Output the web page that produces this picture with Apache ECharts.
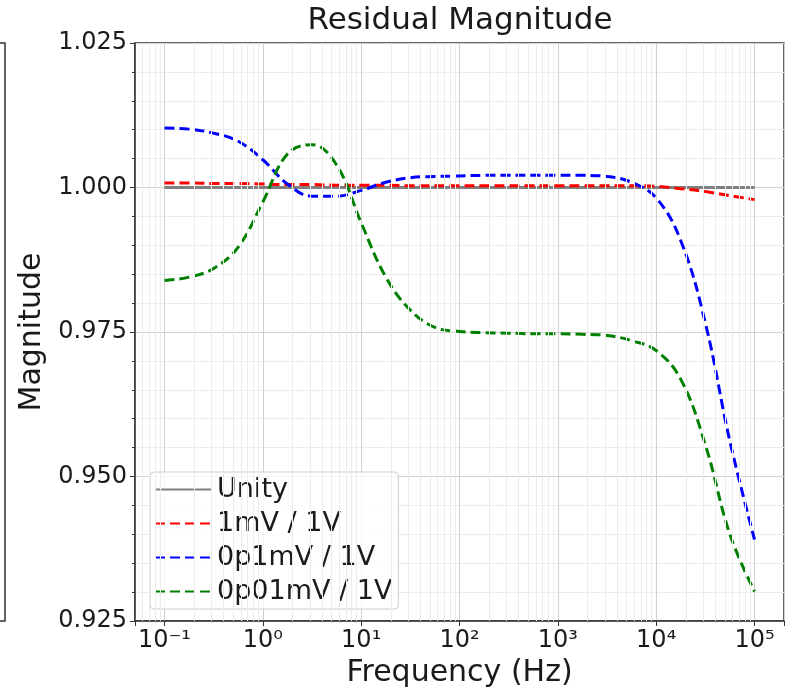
<!DOCTYPE html>
<html>
<head>
<meta charset="utf-8">
<script src="https://cdn.jsdelivr.net/npm/echarts@6/dist/echarts.min.js"></script>
<style>
  html, body { margin: 0; padding: 0; background: #fff; }
  #chart { width: 797px; height: 696px; }
</style>
</head>
<body>
<div id="chart"></div>
<script>
// frequencies (Hz), quarter-decade steps
var freq = [0.1, 0.178, 0.316, 0.562, 1, 1.78, 3.16, 5.62, 10, 17.8, 31.6, 56.2, 100,
            178, 316, 562, 1000, 1780, 3160, 5620, 10000, 17800, 31600, 56200, 100000];

var unity = [1, 1, 1, 1, 1, 1, 1, 1, 1, 1, 1, 1, 1,
             1, 1, 1, 1, 1, 1, 1, 1, 1, 1, 1, 1];
var r1mV = [1.0008, 1.0008, 1.0007, 1.0007, 1.0006, 1.0005, 1.0005, 1.0004, 1.0004, 1.0004, 1.0003, 1.0003, 1.0003,
            1.0003, 1.0003, 1.0003, 1.0003, 1.0003, 1.0003, 1.0003, 1.0002, 0.9998, 0.9993, 0.9986, 0.9979];
var r0p1mV = [1.0103, 1.0101, 1.0094, 1.0080, 1.0048, 1.0006, 0.9985, 0.9985, 0.9995, 1.0009, 1.0017, 1.0019, 1.0020,
              1.0021, 1.0021, 1.0021, 1.0021, 1.0021, 1.0019, 1.0009, 0.9982, 0.9908, 0.9766, 0.9561, 0.9391];
var r0p01mV = [0.9839, 0.9845, 0.9860, 0.9897, 0.9975, 1.0058, 1.0074, 1.0039, 0.9939, 0.9845, 0.9788, 0.9758, 0.9751,
               0.9749, 0.9748, 0.9747, 0.9747, 0.9746, 0.9744, 0.9735, 0.9718, 0.9668, 0.9555, 0.9400, 0.9301];

var decades = [-2, -1, 0, 1, 2, 3, 4, 5];
var supDigits = { '-': '\u207B', '0': '\u2070', '1': '\u00B9', '2': '\u00B2', '3': '\u00B3', '4': '\u2074', '5': '\u2075' };

var xMin = Math.pow(10, -1.3);
var xMax = Math.pow(10, 5.3);

// minor grid of the log axis: 2..9 x 10^n
var minorX = [];
decades.forEach(function (d) {
  for (var k = 2; k <= 9; k++) {
    var v = k * Math.pow(10, d);
    if (v > xMin && v < xMax) minorX.push({ xAxis: v });
  }
});

function pairs(ys) {
  return freq.map(function (f, i) { return [f, ys[i]]; });
}

var font = 'DejaVu Sans';
var ink = '#1a1a1a';

function dashed(name, ys, color) {
  return {
    name: name,
    type: 'line',
    smooth: 0.4,
    data: pairs(ys),
    symbol: 'none',
    lineStyle: { color: color, width: 3, type: [10, 5] },
    itemStyle: { color: color }
  };
}

var myChart = echarts.init(document.getElementById('chart'));
var option = {
  animation: false,
  textStyle: { fontFamily: font },
  title: {
    text: 'Residual Magnitude',
    left: 455,
    textAlign: 'center',
    top: 0,
    textStyle: { fontSize: 31, fontWeight: 'normal', color: ink, fontFamily: font }
  },
  legend: {
    data: ['Unity', '1mV / 1V', '0p1mV / 1V', '0p01mV / 1V'],
    orient: 'vertical',
    left: 150,
    top: 472,
    itemWidth: 57,
    itemHeight: 14,
    itemGap: 7,
    padding: [4, 6, 4, 4],
    backgroundColor: 'rgba(255,255,255,0.8)',
    borderColor: '#cccccc',
    borderWidth: 1,
    borderRadius: 4,
    itemStyle: { opacity: 0 },
    textStyle: { fontSize: 27, color: ink, fontFamily: font }
  },
  grid: [
    { left: 135, right: 13, top: 43, bottom: 75, show: true, borderColor: '#333', borderWidth: 1.5 },
    // right spine of the neighbouring panel, cut off at the left edge
    { left: -100, width: 105, top: 43, bottom: 75, show: true, borderColor: '#333', borderWidth: 1.5, outerBoundsMode: 'none' }
  ],
  xAxis: [
    {
      type: 'log',
      logBase: 10,
      min: xMin,
      max: xMax,
      name: 'Frequency (Hz)',
      nameLocation: 'middle',
      nameGap: 26,
      nameTextStyle: { fontSize: 30, color: ink, fontFamily: font },
      axisLine: { show: true, lineStyle: { color: '#333', width: 1.5 } },
      axisTick: { show: true, length: 5, lineStyle: { color: '#333' } },
      axisLabel: {
        fontSize: 24,
        color: ink,
        fontFamily: font,
        margin: 8,
        formatter: function (v) {
          var e = Math.log10(v);
          var n = Math.round(e);
          if (Math.abs(e - n) > 1e-6) return '';
          return '10' + String(n).split('').map(function (c) { return supDigits[c]; }).join('');
        }
      },
      splitLine: { show: true, lineStyle: { color: '#d0d0d0', width: 1 } }
    },
    { gridIndex: 1, type: 'value', show: false, min: 0, max: 1 }
  ],
  yAxis: [
    {
      type: 'value',
      min: 0.925,
      max: 1.025,
      interval: 0.025,
      name: 'Magnitude',
      nameLocation: 'middle',
      nameGap: 88,
      nameTextStyle: { fontSize: 30, color: ink, fontFamily: font },
      axisLine: { show: true, lineStyle: { color: '#333', width: 1.5 } },
      axisTick: { show: true, length: 5, lineStyle: { color: '#333' } },
      minorTick: { show: true, splitNumber: 5, length: 3, lineStyle: { color: '#333' } },
      axisLabel: {
        fontSize: 24,
        color: ink,
        fontFamily: font,
        margin: 8,
        formatter: function (v) { return v.toFixed(3); }
      },
      splitLine: { show: true, lineStyle: { color: '#d0d0d0', width: 1 } },
      minorSplitLine: { show: true, lineStyle: { color: '#ececec', width: 1 } }
    },
    { gridIndex: 1, type: 'value', show: false, min: 0, max: 1 }
  ],
  series: [
    {
      name: 'minor grid',
      type: 'line',
      data: [],
      z: 0,
      silent: true,
      markLine: {
        silent: true,
        symbol: 'none',
        label: { show: false },
        lineStyle: { color: '#ececec', type: 'solid', width: 1 },
        data: minorX
      }
    },
    {
      name: 'Unity',
      type: 'line',
      data: pairs(unity),
      symbol: 'none',
      lineStyle: { color: '#808080', width: 3 },
      itemStyle: { color: '#808080' }
    },
    dashed('1mV / 1V', r1mV, '#ff0000'),
    dashed('0p1mV / 1V', r0p1mV, '#0000ff'),
    dashed('0p01mV / 1V', r0p01mV, '#008000')
  ]
};
myChart.setOption(option);
</script>
</body>
</html>
